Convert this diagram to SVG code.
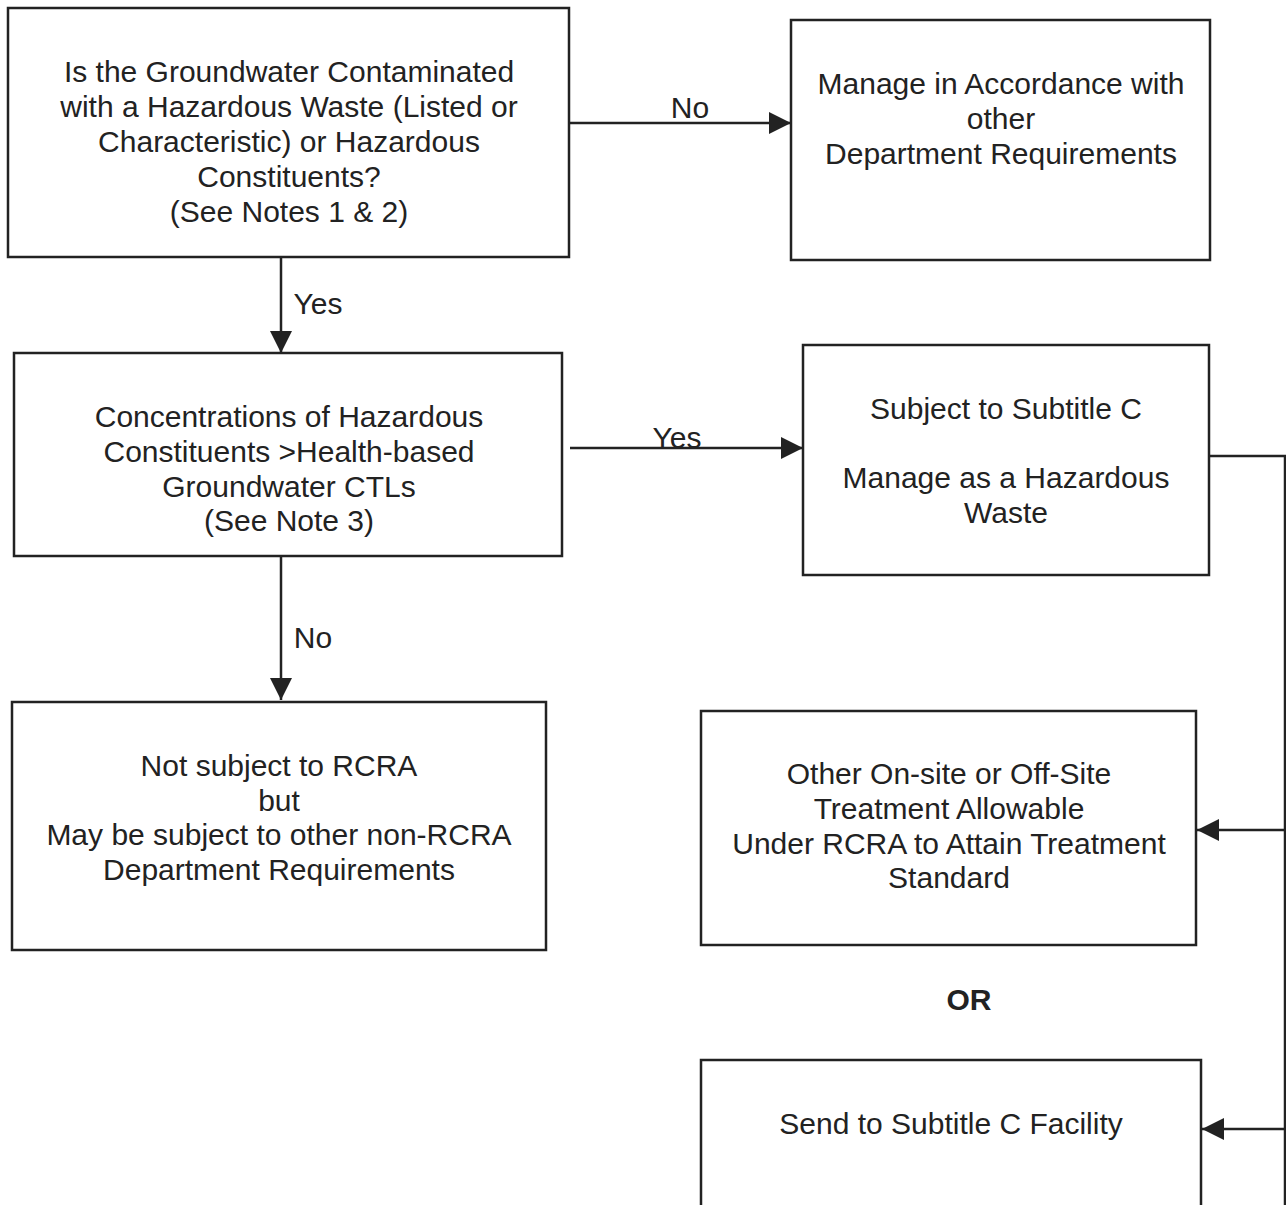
<svg xmlns="http://www.w3.org/2000/svg" width="1286" height="1205" viewBox="0 0 1286 1205">
<defs>
<style>
.box{fill:#fff;stroke:#222;stroke-width:2.5}
.t{font-family:"Liberation Sans",Arial,sans-serif;font-size:30px;fill:#222;text-anchor:middle}
.b{font-weight:bold}
.c{fill:none;stroke:#222;stroke-width:2.5}
</style>
<marker id="ah" viewBox="0 0 10 10" refX="10" refY="5" markerWidth="22" markerHeight="22" markerUnits="userSpaceOnUse" orient="auto">
<path d="M0,0 L10,5 L0,10 z" fill="#222"/>
</marker>
</defs>
<rect width="1286" height="1205" fill="#fff"/>
<g id="connectors">
<path class="c" d="M569,123 H791" marker-end="url(#ah)"/>
<path class="c" d="M281,257 V353" marker-end="url(#ah)"/>
<path class="c" d="M570,448 H803" marker-end="url(#ah)"/>
<path class="c" d="M281,556 V700" marker-end="url(#ah)"/>
<path class="c" d="M1210,456 H1285 V1205"/>
<path class="c" d="M1285,830 H1197" marker-end="url(#ah)"/>
<path class="c" d="M1285,1129 H1202" marker-end="url(#ah)"/>
<text class="t" x="690" y="118">No</text>
<text class="t" x="318" y="314">Yes</text>
<text class="t" x="677" y="448">Yes</text>
<text class="t" x="313" y="648">No</text>
</g>
<g id="n1">
<rect class="box" x="8" y="8" width="561" height="249"/>
<text class="t" x="289" y="82">Is the Groundwater Contaminated</text>
<text class="t" x="289" y="117">with a Hazardous Waste (Listed or</text>
<text class="t" x="289" y="152">Characteristic) or Hazardous</text>
<text class="t" x="289" y="187">Constituents?</text>
<text class="t" x="289" y="222">(See Notes 1 &amp; 2)</text>
</g>
<g id="n2">
<rect class="box" x="791" y="20" width="419" height="240"/>
<text class="t" x="1001" y="94">Manage in Accordance with</text>
<text class="t" x="1001" y="129">other</text>
<text class="t" x="1001" y="164">Department Requirements</text>
</g>
<g id="n3">
<rect class="box" x="14" y="353" width="548" height="203"/>
<text class="t" x="289" y="427">Concentrations of Hazardous</text>
<text class="t" x="289" y="462">Constituents &gt;Health-based</text>
<text class="t" x="289" y="497">Groundwater CTLs</text>
<text class="t" x="289" y="531">(See Note 3)</text>
</g>
<g id="n4">
<rect class="box" x="803" y="345" width="406" height="230"/>
<text class="t" x="1006" y="419">Subject to Subtitle C</text>
<text class="t" x="1006" y="488">Manage as a Hazardous</text>
<text class="t" x="1006" y="523">Waste</text>
</g>
<g id="n5">
<rect class="box" x="12" y="702" width="534" height="248"/>
<text class="t" x="279" y="776">Not subject to RCRA</text>
<text class="t" x="279" y="811">but</text>
<text class="t" x="279" y="845">May be subject to other non-RCRA</text>
<text class="t" x="279" y="880">Department Requirements</text>
</g>
<g id="n6">
<rect class="box" x="701" y="711" width="495" height="234"/>
<text class="t" x="949" y="784">Other On-site or Off-Site</text>
<text class="t" x="949" y="819">Treatment Allowable</text>
<text class="t" x="949" y="854">Under RCRA to Attain Treatment</text>
<text class="t" x="949" y="888">Standard</text>
</g>
<g id="or">
<text class="t b" x="969" y="1010">OR</text>
</g>
<g id="n7">
<rect class="box" x="701" y="1060" width="500" height="160"/>
<text class="t" x="951" y="1134">Send to Subtitle C Facility</text>
</g>
</svg>
